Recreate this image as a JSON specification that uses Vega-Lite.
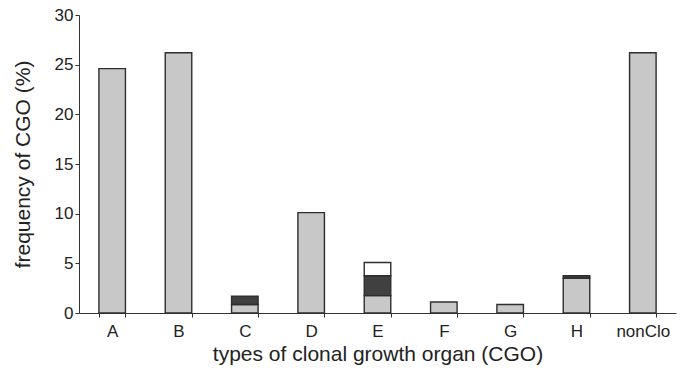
{
  "$schema": "https://vega.github.io/schema/vega-lite/v6.json",
  "autosize": "none",
  "width": 597,
  "height": 298,
  "padding": {"left": 79, "top": 15, "right": 22, "bottom": 57},
  "background": "white",
  "config": {
    "view": {"stroke": null},
    "font": "Liberation Sans"
  },
  "data": {
    "values": [
      {"cgo": "A", "part": "grey", "ord": 1, "value": 24.6},
      {"cgo": "B", "part": "grey", "ord": 1, "value": 26.2},
      {"cgo": "C", "part": "grey", "ord": 1, "value": 0.85},
      {"cgo": "C", "part": "dark", "ord": 2, "value": 0.85},
      {"cgo": "D", "part": "grey", "ord": 1, "value": 10.1},
      {"cgo": "E", "part": "grey", "ord": 1, "value": 1.75},
      {"cgo": "E", "part": "dark", "ord": 2, "value": 2.0},
      {"cgo": "E", "part": "white", "ord": 3, "value": 1.33},
      {"cgo": "F", "part": "grey", "ord": 1, "value": 1.1},
      {"cgo": "G", "part": "grey", "ord": 1, "value": 0.85},
      {"cgo": "H", "part": "grey", "ord": 1, "value": 3.5},
      {"cgo": "H", "part": "dark", "ord": 2, "value": 0.25},
      {"cgo": "nonClo", "part": "grey", "ord": 1, "value": 26.2}
    ]
  },
  "mark": {"type": "bar", "stroke": "#2e2e2e", "strokeWidth": 1.4},
  "encoding": {
    "x": {
      "field": "cgo",
      "type": "nominal",
      "sort": null,
      "scale": {"paddingInner": 0.6, "paddingOuter": 0.3},
      "axis": {
        "title": "types of clonal growth organ (CGO)",
        "titleFontSize": 21,
        "titleFontWeight": "normal",
        "titleColor": "#222222",
        "titlePadding": 4,
        "labelAngle": 0,
        "labelFontSize": 17,
        "labelColor": "#222222",
        "labelPadding": 6,
        "tickBand": "extent",
        "tickSize": 4,
        "tickColor": "#333333",
        "domainColor": "#333333",
        "grid": false
      }
    },
    "y": {
      "field": "value",
      "type": "quantitative",
      "stack": "zero",
      "scale": {"domain": [0, 30]},
      "axis": {
        "title": "frequency of CGO (%)",
        "titleFontSize": 21,
        "titleFontWeight": "normal",
        "titleColor": "#222222",
        "titlePadding": 21,
        "values": [0, 5, 10, 15, 20, 25, 30],
        "labelFontSize": 17,
        "labelColor": "#222222",
        "labelPadding": 2,
        "tickSize": 4,
        "tickColor": "#333333",
        "domainColor": "#333333",
        "grid": false
      }
    },
    "color": {
      "field": "part",
      "type": "nominal",
      "scale": {"domain": ["grey", "dark", "white"], "range": ["#c8c8c8", "#404040", "#ffffff"]},
      "legend": null
    },
    "order": {"field": "ord", "type": "quantitative"}
  }
}
